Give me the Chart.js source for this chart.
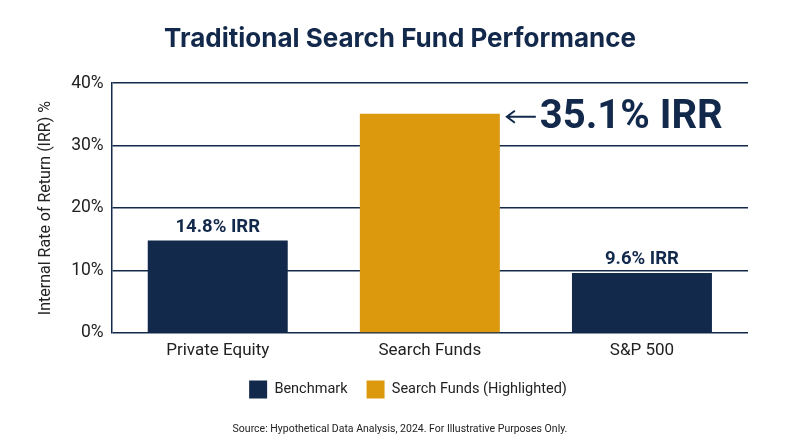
<!DOCTYPE html>
<html>
<head>
<meta charset="utf-8">
<script src="https://cdn.jsdelivr.net/npm/chart.js@4"></script>
<style>
  html, body { margin: 0; padding: 0; background: #ffffff; }
  #wrap { width: 800px; height: 447px; }
</style>
</head>
<body>
<div id="wrap"><canvas id="chartIrr"></canvas></div>
<script>
// Datos del gráfico
const categories = ['Private Equity', 'Search Funds', 'S&P 500'];
const benchmarkValues = [14.8, null, 9.6];
const highlightedValues = [null, 35.1, null];
const barLabels = ['14.8% IRR', '35.1% IRR', '9.6% IRR'];
const yTicks = [0, 10, 20, 30, 40];

const NAVY = '#13294b';
const GOLD = '#dc990e';

// Etiquetas sobre las barras + flecha para la barra destacada
const irrLabels = {
    id: 'irrLabels',
    afterDatasetsDraw(chart) {
        const ctx = chart.ctx;
        ctx.save();
        chart.data.datasets.forEach((ds, di) => {
            const meta = chart.getDatasetMeta(di);
            meta.data.forEach((bar, i) => {
                if (ds.data[i] == null) return;
                if (ds.highlight) {
                    const right = bar.x + bar.width / 2;
                    const y = bar.y + 3;
                    ctx.strokeStyle = NAVY;
                    ctx.lineWidth = 2;
                    ctx.beginPath();
                    ctx.moveTo(right + 7, y);
                    ctx.lineTo(right + 36, y);
                    ctx.moveTo(right + 15, y - 6);
                    ctx.lineTo(right + 7, y);
                    ctx.lineTo(right + 15, y + 6);
                    ctx.stroke();
                    ctx.fillStyle = NAVY;
                    ctx.font = 'bold 40px Roboto';
                    ctx.textAlign = 'left';
                    ctx.textBaseline = 'middle';
                    ctx.fillText(barLabels[i], right + 40, y + 1);
                } else {
                    ctx.fillStyle = NAVY;
                    ctx.font = 'bold 18.5px Roboto';
                    ctx.textAlign = 'center';
                    ctx.textBaseline = 'bottom';
                    ctx.fillText(barLabels[i], bar.x, bar.y - 4);
                }
            });
        });
        ctx.restore();
    }
};

// Centrar título, leyenda y fuente respecto al lienzo (no al área con padding asimétrico)
const centerBlocks = {
    id: 'centerBlocks',
    afterLayout(chart) {
        chart.boxes.forEach(box => {
            if (box.axis) return;
            const dx = box === chart.legend ? 18 : 10;
            box.left += dx;
            box.right += dx;
        });
    }
};

new Chart(document.getElementById('chartIrr'), {
    type: 'bar',
    data: {
        labels: categories,
        datasets: [
            {
                label: 'Benchmark',
                data: benchmarkValues,
                backgroundColor: NAVY,
                grouped: false,
                barPercentage: 0.66,
                categoryPercentage: 1
            },
            {
                label: 'Search Funds (Highlighted)',
                data: highlightedValues,
                backgroundColor: GOLD,
                grouped: false,
                highlight: true,
                barPercentage: 0.66,
                categoryPercentage: 1
            }
        ]
    },
    options: {
        responsive: true,
        maintainAspectRatio: false,
        animation: false,
        layout: { padding: { left: 32, right: 52, top: 0, bottom: 6 } },
        plugins: {
            title: {
                display: true,
                text: 'Traditional Search Fund Performance',
                color: NAVY,
                font: { family: 'Inter', size: 26, weight: 'bold' },
                padding: { top: 24, bottom: 28 }
            },
            subtitle: {
                display: true,
                position: 'bottom',
                text: 'Source: Hypothetical Data Analysis, 2024. For Illustrative Purposes Only.',
                color: '#222222',
                font: { family: 'Roboto', size: 10.5 },
                padding: { top: 15, bottom: 5 }
            },
            legend: {
                position: 'bottom',
                labels: {
                    color: '#222222',
                    font: { family: 'Roboto', size: 14.5 },
                    boxWidth: 18,
                    boxHeight: 18,
                    padding: 19
                }
            },
            tooltip: { enabled: false }
        },
        scales: {
            x: {
                grid: { display: false },
                border: { display: false },
                ticks: { color: '#222222', font: { family: 'Roboto', size: 17 }, padding: 0 }
            },
            y: {
                min: 0,
                max: 40,
                afterBuildTicks(scale) { scale.ticks = yTicks.map(v => ({ value: v })); },
                grid: { color: NAVY, lineWidth: 1.5, drawTicks: false },
                border: { display: true, color: NAVY, width: 1.5 },
                ticks: {
                    color: '#222222',
                    font: { family: 'Roboto', size: 17.5 },
                    padding: 8,
                    callback: v => v + '%'
                },
                title: {
                    display: true,
                    text: 'Internal Rate of Return (IRR) %',
                    color: '#222222',
                    font: { family: 'Roboto', size: 16 },
                    padding: { bottom: 8 }
                }
            }
        }
    },
    plugins: [irrLabels, centerBlocks]
});
</script>
</body>
</html>
